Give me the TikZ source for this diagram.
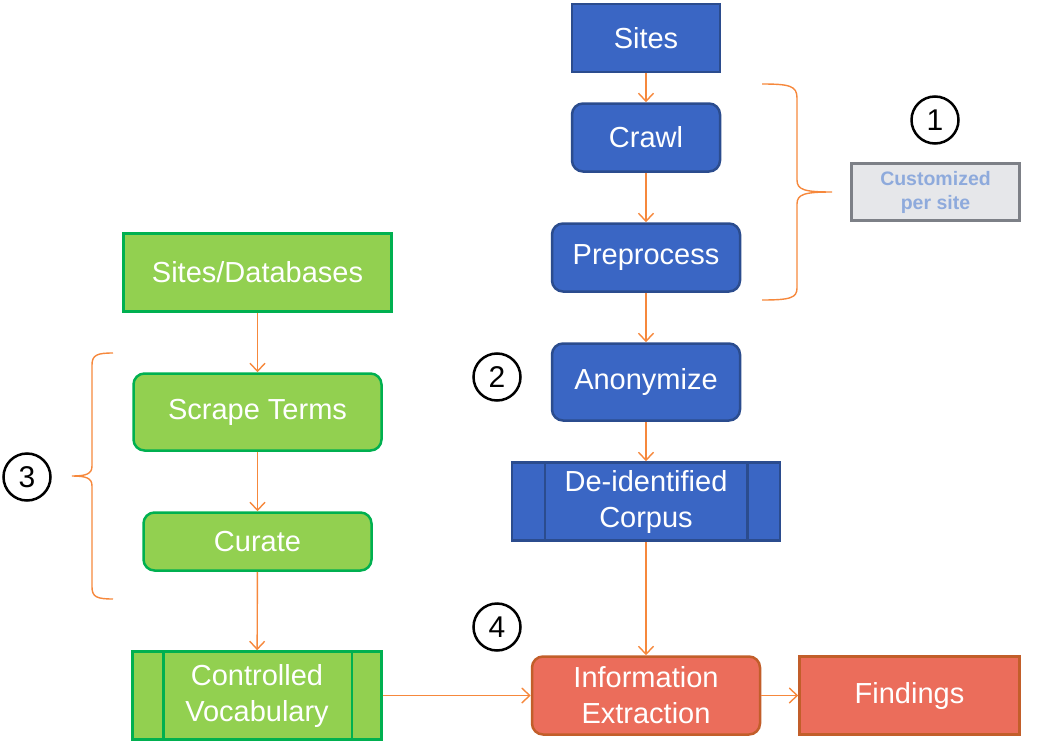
\documentclass[tikz,border=0pt]{standalone}
\usepackage{fontspec}
\setmainfont{Liberation Sans}
\usetikzlibrary{arrows.meta,positioning,calc}
\definecolor{bluefill}{HTML}{3A66C4}
\definecolor{blueline}{HTML}{2B4C8E}
\definecolor{greenfill}{HTML}{92D050}
\definecolor{greenline}{HTML}{00B050}
\definecolor{redfill}{HTML}{EB6D5B}
\definecolor{redline}{HTML}{C25E2A}
\definecolor{greyfill}{HTML}{E6E7EA}
\definecolor{greyline}{HTML}{7D8087}
\definecolor{greytext}{HTML}{8EAADC}
\definecolor{flowcol}{HTML}{F6883C}

\begin{document}
\begin{tikzpicture}[
   x=1pt, y=-1pt,
   >={Straight Barb[length=8pt,width=15pt]},
   box/.style={draw, line width=2.5pt, text=white, align=center,
               font=\fontsize{29}{36}\selectfont, inner sep=2pt},
   bluebox/.style={box, fill=bluefill, draw=blueline},
   greenbox/.style={box, fill=greenfill, draw=greenline},
   redbox/.style={box, fill=redfill, draw=redline},
   rnd/.style={rounded corners=11pt},
   flow/.style={->, flowcol, line width=1.4pt},
   brace/.style={flowcol, line width=1.4pt},
   num/.style={circle, draw, line width=2.5pt, minimum size=47pt,
               inner sep=0pt, font=\fontsize{30}{30}\selectfont},
]
\useasboundingbox (0,0) rectangle (1050,744);
% crawling column
\node[bluebox, minimum width=148pt, minimum height=68pt] (sites) at (646,38) {Sites};
\node[bluebox, rnd, minimum width=148pt, minimum height=68pt] (crawl) at (646,137.5) {Crawl};
\node[bluebox, rnd, minimum width=188pt, minimum height=68pt] (prep) at (646,257.5) {Preprocess};
\node[bluebox, rnd, minimum width=188pt, minimum height=77pt] (anon) at (646,382) {Anonymize};
\node[bluebox, minimum width=268pt, minimum height=78pt] (corpus) at (646,501.5) {De-identified\\Corpus};
% vocabulary column
\node[greenbox, minimum width=268pt, minimum height=78pt] (srcdb) at (257.5,272.5) {Sites/Databases};
\node[greenbox, rnd, minimum width=248pt, minimum height=77pt] (scrape) at (257.5,412) {Scrape Terms};
\node[greenbox, rnd, minimum width=228pt, minimum height=58pt] (curate) at (257.5,541.5) {Curate};
\node[greenbox, minimum width=249pt, minimum height=88pt] (vocab) at (257,695.5) {Controlled\\Vocabulary};
% bottom row
\node[redbox, rnd, minimum width=228pt, minimum height=78pt] (extract) at (646,695.5) {Information\\Extraction};
\node[redbox, minimum width=220pt, minimum height=78pt] (findings) at (909.5,695.5) {Findings};
% note and step numbers
\node[box, fill=greyfill, draw=greyline, text=greytext, minimum width=168pt, minimum height=57pt,
      font=\fontsize{19.5}{24}\selectfont\bfseries] (custom) at (935.5,192) {Customized\\per site};
\node[num] (n1) at (935,120) {1};
\node[num] (n2) at (497,377) {2};
\node[num] (n3) at (27,477) {3};
\node[num] (n4) at (497,627) {4};
% side bars of the stored items
\draw[blueline, line width=2.5pt] ([xshift=34pt]corpus.north west) -- ([xshift=34pt]corpus.south west);
\draw[blueline, line width=2.5pt] ([xshift=-34pt]corpus.north east) -- ([xshift=-34pt]corpus.south east);
\draw[greenline, line width=2.5pt] ([xshift=32pt]vocab.north west) -- ([xshift=32pt]vocab.south west);
\draw[greenline, line width=2.5pt] ([xshift=-31pt]vocab.north east) -- ([xshift=-31pt]vocab.south east);
% braces
\draw[brace] (762,84) .. controls (790,84) and (797,86) .. (797,98) -- (797,180)
   .. controls (797,190) and (805,192) .. (832,192)
   .. controls (805,192) and (797,194) .. (797,204) -- (797,288)
   .. controls (797,298) and (790,300) .. (762,300);
\draw[brace] (113,353) .. controls (97,353) and (92,355) .. (92,365) -- (92,466)
   .. controls (92,474) and (86,476) .. (72,476)
   .. controls (86,476) and (92,478) .. (92,486) -- (92,587)
   .. controls (92,597) and (97,599) .. (113,599);
% edges
\draw[flow] (sites) -- (crawl);
\draw[flow] (crawl) -- (prep);
\draw[flow] (prep) -- (anon);
\draw[flow] (anon) -- (corpus);
\draw[flow] (corpus) -- (extract);
\draw[flow] (srcdb) -- (scrape);
\draw[flow] (scrape) -- (curate);
\draw[flow] (curate) -- (vocab);
\draw[flow] (vocab) -- (extract);
\draw[flow] (extract) -- (findings);
\end{tikzpicture}
\end{document}
